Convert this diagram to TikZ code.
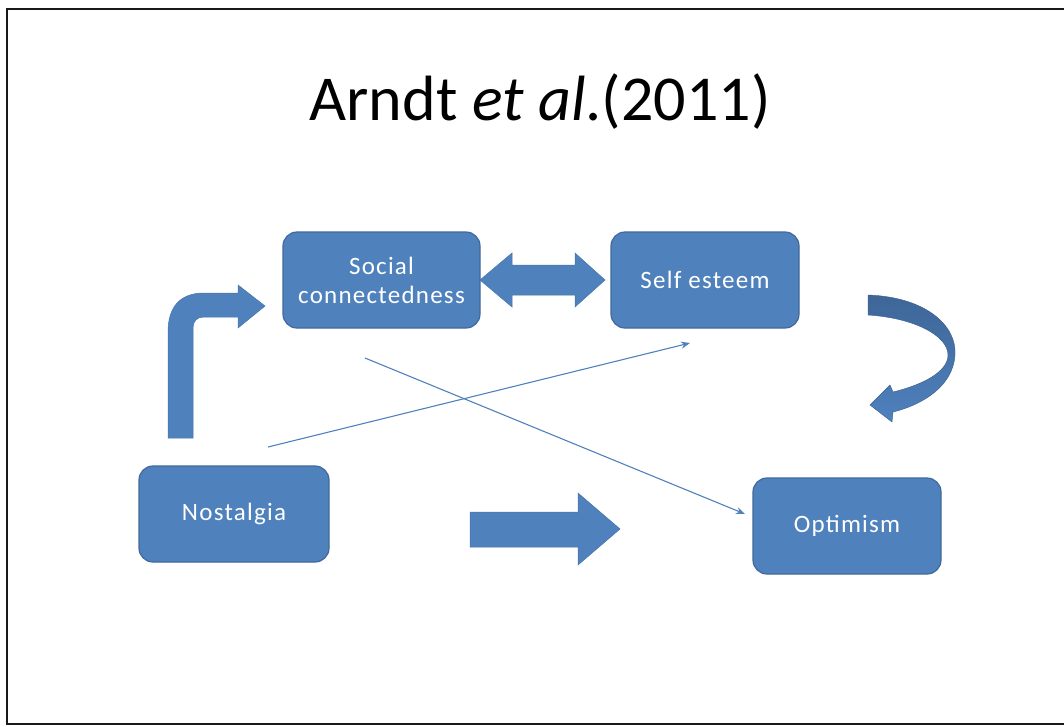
\documentclass[tikz,border=0pt]{standalone}
\usepackage{fontspec}
\setmainfont{Carlito}
\newfontfamily\boxfont[LetterSpace=5]{Carlito}
\usetikzlibrary{arrows.meta}
\definecolor{boxblue}{HTML}{4F81BD}
\definecolor{boxedge}{HTML}{41699C}
\definecolor{arrowdark}{HTML}{3E6698}
\begin{document}
\begin{tikzpicture}[x=1pt,y=-1pt,
  box/.style={draw=boxedge,line width=1.2pt,fill=boxblue,rounded corners=14pt,
    text=white,align=center,font=\boxfont\fontsize{25}{29}\selectfont,inner sep=0pt},
  blockarrow/.style={fill=boxblue,draw=boxblue!90!black,line width=0.5pt},
  thinlink/.style={draw=boxblue,line width=1.1pt,-{Stealth[length=9pt,width=7pt]}}]
\useasboundingbox (0,0) rectangle (1064,726);
% frame
\draw[black!90,line width=2.8pt] (1070,9) -- (7,9) -- (7,724) -- (1070,724);
% title
\node[anchor=base,font=\fontsize{64}{70}\selectfont] (title) at (540,120)
  {Arndt \textit{et al}.(2011)};
% concept boxes
\node[box,minimum width=197pt,minimum height=96pt] (social) at (381.5,280) {Social\\connectedness};
\node[box,minimum width=188pt,minimum height=96pt] (esteem) at (705,280) {Self esteem};
\node[box,minimum width=190pt,minimum height=96pt] (nost) at (234,514) {Nostalgia};
\node[box,minimum width=188pt,minimum height=96pt] (optim) at (847,526) {Optimism};
% bent arrow from nostalgia up to social connectedness
\path[blockarrow] (168,438) -- (168,332)
  .. controls (168,307) and (180,293) .. (204,293)
  -- (238,293) -- (238,285) -- (265,306) -- (238,328) -- (238,317) -- (204,317)
  .. controls (197,317) and (193,321) .. (193,328) -- (193,438) -- cycle;
% double arrow between social connectedness and self esteem
\path[blockarrow] (480,280) -- (512,253) -- (512,265) -- (575,265) -- (575,253)
  -- (605,280) -- (575,307) -- (575,295) -- (512,295) -- (512,307) -- cycle;
% block arrow towards optimism
\path[blockarrow] (470,512) -- (578,512) -- (578,493) -- (620,529) -- (578,565)
  -- (578,547) -- (470,547) -- cycle;
% curved arrow from self esteem down to optimism
\path[top color=arrowdark,bottom color=boxblue,draw=arrowdark!90!black,line width=0.4pt]
  (868,295) .. controls (925,297) and (957,325) .. (955,355)
  .. controls (953,385) and (925,404) .. (893,412)
  -- (892,422) -- (870,405) -- (890,385) -- (893,392)
  .. controls (922,385) and (948,372) .. (948,355)
  .. controls (948,336) and (915,318) .. (868,315) -- cycle;
% thin direct links
\coordinate (nostout) at (268,447);
\coordinate (esteemin) at (690,343);
\coordinate (socialout) at (365,358);
\coordinate (optimin) at (745,514);
\draw[thinlink] (nostout) -- (esteemin);
\draw[thinlink] (socialout) -- (optimin);
\end{tikzpicture}
\end{document}
